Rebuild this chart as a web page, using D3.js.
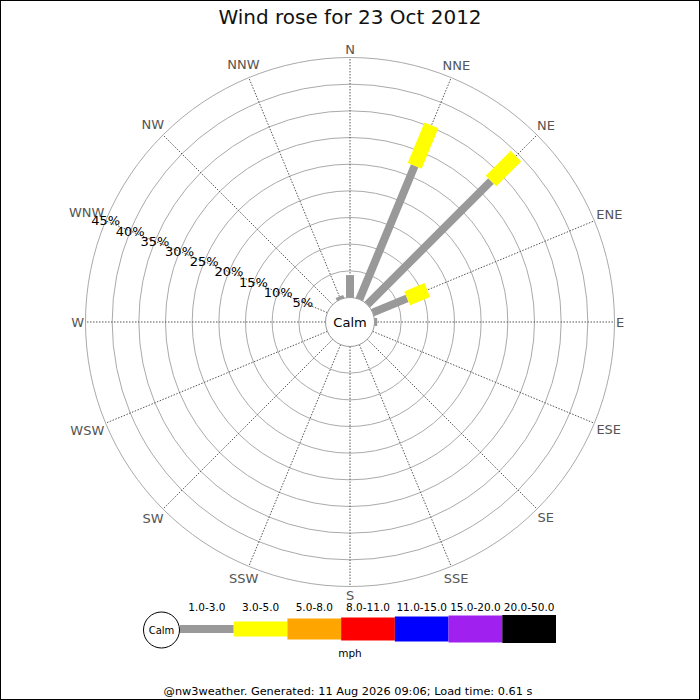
<!DOCTYPE html>
<html><head><meta charset="utf-8">
<script src="https://cdn.jsdelivr.net/npm/d3@7"></script>
<style>body{margin:0;background:#fff}svg{display:block;font-family:"DejaVu Sans",sans-serif}</style>
</head><body>
<svg id="c" width="700" height="700"></svg>
<script>
const directions = ["N","NNE","NE","ENE","E","ESE","SE","SSE","S","SSW","SW","WSW","W","WNW","NW","NNW"];
const binLabels = ["1.0-3.0","3.0-5.0","5.0-8.0","8.0-11.0","11.0-15.0","15.0-20.0","20.0-50.0"];
const binColors = ["#999999","#ffff00","#ffa500","#ff0000","#0000ff","#a020f0","#000000"];
const binWidths = [8,15,21,23,25,27,28];
// percentages per direction for each speed bin
const bin1 = [4.2,27.1,32.8,7.0,0.5,0,0,0,0,0,0,0,0,0,0,0.6];
const bin2 = [0,8.2,6.6,4.1,0,0,0,0,0,0,0,0,0,0,0,0];
const binValues = [bin1,bin2,[],[],[],[],[]];
const ringTicks = [5,10,15,20,25,30,35,40,45];
const titleText = "Wind rose for 23 Oct 2012";
const footerText = "@nw3weather. Generated: 11 Aug 2026 09:06; Load time: 0.61 s";

const svg = d3.select("#c");
const cx = 350, cy = 322;
const r = d3.scaleLinear().domain([0,45]).range([24.5,264.5]);
const ang = d3.scalePoint().domain(directions).range([0,337.5]);
const rad = d => ang(d)*Math.PI/180;

svg.append("rect").attr("x",0.5).attr("y",0.5).attr("width",699).attr("height",699)
  .attr("fill","#fff").attr("stroke","#000").attr("stroke-width",1);

svg.append("text").attr("x",350).attr("y",24).attr("text-anchor","middle")
  .attr("font-size",20).attr("fill","#111").text(titleText);

const g = svg.append("g").attr("transform",`translate(${cx},${cy})`);

// rings
g.selectAll("circle.ring").data(ringTicks).join("circle").attr("class","ring")
  .attr("r",d=>r(d)).attr("fill","none").attr("stroke","#aaaaaa").attr("stroke-width",1);

// spokes
g.selectAll("line.spoke").data(directions).join("line").attr("class","spoke")
  .attr("x1",d=>r(0)*Math.sin(rad(d))).attr("y1",d=>-r(0)*Math.cos(rad(d)))
  .attr("x2",d=>r(45)*Math.sin(rad(d))).attr("y2",d=>-r(45)*Math.cos(rad(d)))
  .attr("stroke","#555").attr("stroke-width",1).attr("stroke-dasharray","1.5,1.5");

// direction labels
const dl = g.selectAll("text.dir").data(directions).join("text").attr("class","dir")
  .attr("font-size",13).attr("fill","#555").attr("text-anchor","middle")
  .attr("dominant-baseline","central").text(d=>d);
dl.each(function(d){
  const w = this.getComputedTextLength();
  const a = rad(d), s = Math.sin(a), c = Math.cos(a);
  const R = 266 + Math.abs(s)*w/2 + Math.abs(c)*7;
  d3.select(this).attr("x",R*s).attr("y",-R*c);
});

// bars
binValues.forEach((vals,bi)=>{
  vals.forEach((v,di)=>{
    if(!v) return;
    let start = 0;
    for(let k=0;k<bi;k++) start += (binValues[k][di]||0);
    const d = directions[di];
    g.append("rect")
      .attr("transform",`rotate(${ang(d)})`)
      .attr("x",-binWidths[bi]/2).attr("width",binWidths[bi])
      .attr("y",-r(start+v)).attr("height",r(start+v)-r(start))
      .attr("fill",binColors[bi]);
  });
});

// calm circle
g.append("circle").attr("r",r(0)).attr("fill","#fff").attr("stroke","#999").attr("stroke-width",1);
g.append("text").attr("text-anchor","middle").attr("dominant-baseline","central")
  .attr("font-size",13).attr("fill","#000").text("Calm");

// percent labels along WNW
const la = rad("WNW");
g.selectAll("text.pct").data(ringTicks).join("text").attr("class","pct")
  .attr("x",d=>r(d)*Math.sin(la)).attr("y",d=>-r(d)*Math.cos(la))
  .attr("text-anchor","middle").attr("dominant-baseline","central")
  .attr("font-size",13).attr("fill","#000").text(d=>d+"%");

// legend
const lx = d3.scaleBand().domain(binLabels).range([180,556]);
const ly = 629;
const lg = svg.append("g");
lg.selectAll("rect").data(binLabels).join("rect")
  .attr("x",d=>lx(d)).attr("width",lx.bandwidth())
  .attr("y",(d,i)=>ly-binWidths[i]/2).attr("height",(d,i)=>binWidths[i])
  .attr("fill",(d,i)=>binColors[i]);
lg.selectAll("text.bl").data(binLabels).join("text").attr("class","bl")
  .attr("x",d=>lx(d)+lx.bandwidth()/2).attr("y",611)
  .attr("text-anchor","middle").attr("font-size",10.5).attr("fill","#000").text(d=>d);
lg.append("circle").attr("cx",161.5).attr("cy",630).attr("r",18)
  .attr("fill","#fff").attr("stroke","#000").attr("stroke-width",1);
lg.append("text").attr("x",161.5).attr("y",630).attr("text-anchor","middle")
  .attr("dominant-baseline","central").attr("font-size",10).text("Calm");
lg.append("text").attr("x",350).attr("y",657).attr("text-anchor","middle")
  .attr("font-size",10.5).text("mph");

svg.append("text").attr("x",348).attr("y",695).attr("text-anchor","middle")
  .attr("font-size",11.3).attr("fill","#000").text(footerText);
</script>
</body></html>
